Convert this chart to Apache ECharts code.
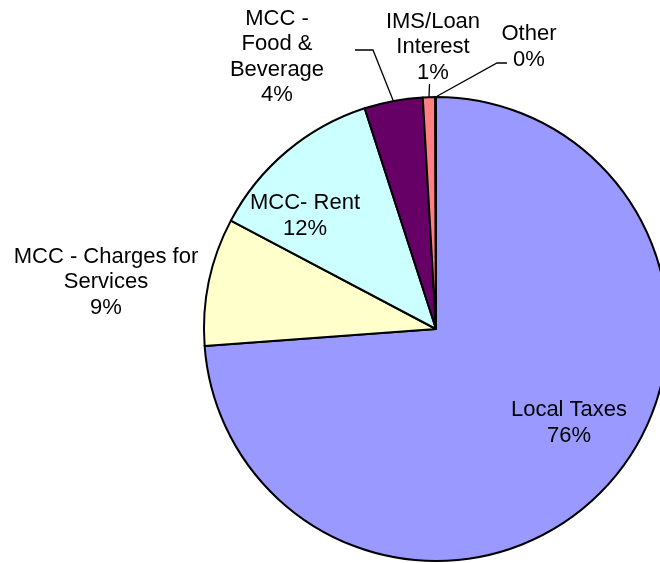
<!DOCTYPE html>
<html>
<head>
<meta charset="utf-8">
<script src="https://cdn.jsdelivr.net/npm/echarts@6/dist/echarts.min.js"></script>
<style>
  html, body { margin: 0; padding: 0; background: #fff; }
  #main { width: 660px; height: 563px; }
</style>
</head>
<body>
<div id="main"></div>
<script>
// slices, clockwise from 12 o'clock
const categories = [
  "Local Taxes",
  "MCC - Charges for\nServices",
  "MCC- Rent",
  "MCC -\nFood &\nBeverage",
  "IMS/Loan\nInterest",
  "Other"
];
// shares as measured from the slice angles
const shares = [73.9, 8.9, 12.3, 4.07, 0.86, 0.05];
// percentages as printed on the chart
const pctLabels = ["76%", "9%", "12%", "4%", "1%", "0%"];
const colors = ["#9999FF", "#FFFFCC", "#CCFFFF", "#660066", "#FF8080", "#0066CC"];

// layout
const cx = 436, cy = 329, radius = 232;
const labelPos = [
  [569, 423],
  [106, 282],
  [305, 216],
  [277, 57],
  [433, 47],
  [529, 47]
];
// bend and end of leader lines (only small slices have one)
const leaders = {
  3: [[373, 50], [355, 50]],
  4: [[429.5, 84], [429.5, 84]],
  5: [[497, 63], [507, 63]]
};

const total = shares.reduce((a, b) => a + b, 0);
function edgePoint(i) {
  let cum = 0;
  for (let k = 0; k < i; k++) cum += shares[k];
  const a = (cum + shares[i] / 2) / total * 2 * Math.PI;
  return [cx + radius * Math.sin(a), cy - radius * Math.cos(a)];
}

const chart = echarts.init(document.getElementById("main"));
chart.setOption({
  backgroundColor: "#fff",
  animation: false,
  series: [
    {
      type: "pie",
      center: [cx, cy],
      radius: radius,
      startAngle: 90,
      clockwise: true,
      avoidLabelOverlap: false,
      itemStyle: { borderColor: "#000", borderWidth: 2 },
      label: {
        position: "outside",
        color: "#000",
        fontFamily: "Liberation Sans, Arial, sans-serif",
        fontSize: 22,
        lineHeight: 25.5,
        align: "center",
        formatter: (p) => p.name + "\n" + pctLabels[p.dataIndex]
      },
      labelLine: {
        show: true,
        length: 10,
        length2: 10,
        lineStyle: { color: "#000", width: 1.3 }
      },
      emphasis: { disabled: true },
      labelLayout: (params) => {
        const i = params.dataIndex;
        const out = {
          x: labelPos[i][0],
          y: labelPos[i][1],
          align: "center",
          verticalAlign: "middle"
        };
        if (leaders[i]) {
          out.labelLinePoints = [edgePoint(i), leaders[i][0], leaders[i][1]];
        }
        return out;
      },
      data: categories.map((name, i) => ({
        name: name,
        value: shares[i],
        itemStyle: { color: colors[i] },
        labelLine: { show: !!leaders[i] }
      }))
    }
  ]
});
</script>
</body>
</html>
